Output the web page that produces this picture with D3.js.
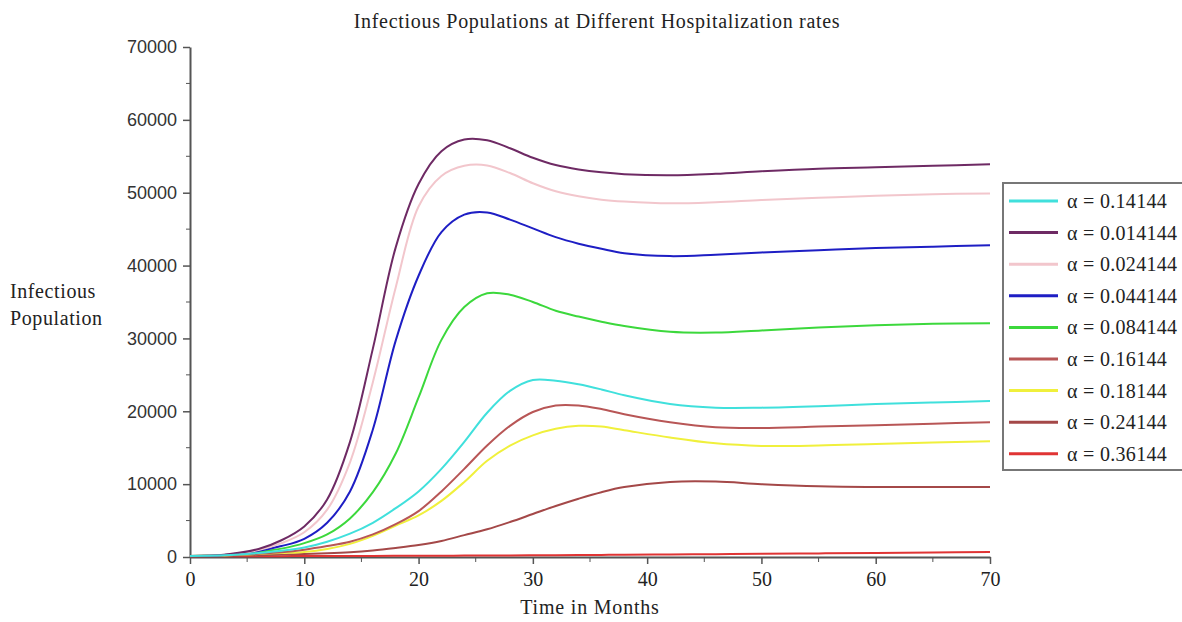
<!DOCTYPE html>
<html lang="en">
<head>
<meta charset="UTF-8">
<title>Infectious Populations</title>
<script src="https://cdn.jsdelivr.net/npm/d3@7"></script>
<style>
  body { margin: 0; background: #fff; }
  svg { display: block; }
</style>
</head>
<body>
<div id="chart"></div>
<script>
// time grid (months)
var months = [0, 3, 6, 8, 10, 12, 14, 16, 18, 20, 22, 24, 26, 28, 30, 32, 34, 36, 38, 42, 46, 50, 55, 60, 65, 70];

// infectious population for each hospitalization rate
var a0_14144  = [150, 250, 550, 850, 1300, 2100, 3200, 4700, 6700, 9000, 12100, 15800, 19800, 22800, 24300, 24200, 23700, 23000, 22200, 21000, 20500, 20500, 20700, 21000, 21200, 21400];
var a0_014144 = [150, 320, 1100, 2300, 4200, 7900, 15800, 28600, 42500, 51200, 55700, 57300, 57200, 56100, 54800, 53800, 53200, 52800, 52550, 52400, 52600, 52950, 53300, 53500, 53700, 53900];
var a0_024144 = [150, 300, 950, 1900, 3400, 6500, 13000, 24000, 37000, 48100, 52300, 53700, 53750, 52700, 51300, 50200, 49500, 49050, 48800, 48550, 48700, 49000, 49300, 49600, 49800, 49900];
var a0_044144 = [150, 290, 850, 1500, 2500, 4700, 9000, 17500, 29700, 38600, 44600, 47000, 47300, 46300, 45100, 43900, 43000, 42300, 41700, 41300, 41500, 41800, 42100, 42400, 42600, 42800];
var a0_084144 = [150, 270, 700, 1150, 1900, 3100, 5300, 8900, 14200, 21900, 29800, 34300, 36200, 36000, 35000, 33800, 33000, 32300, 31700, 30900, 30800, 31100, 31500, 31800, 32000, 32100];
var a0_16144  = [150, 230, 450, 650, 1000, 1500, 2100, 3100, 4500, 6300, 9000, 12100, 15300, 18000, 19900, 20800, 20800, 20300, 19600, 18500, 17800, 17700, 17900, 18100, 18300, 18500];
var a0_18144  = [150, 220, 420, 550, 700, 1100, 1800, 2900, 4300, 5700, 7700, 10300, 13200, 15300, 16700, 17600, 18000, 17900, 17400, 16400, 15600, 15250, 15300, 15500, 15700, 15900];
var a0_24144  = [120, 170, 250, 330, 400, 500, 650, 900, 1250, 1650, 2200, 3000, 3800, 4800, 5900, 7000, 8000, 8900, 9600, 10300, 10350, 10000, 9700, 9600, 9600, 9600];
var a0_36144  = [100, 105, 115, 120, 125, 130, 140, 150, 160, 170, 180, 190, 200, 210, 230, 250, 270, 290, 310, 350, 390, 430, 490, 560, 630, 700];

var labels = ["0.14144", "0.014144", "0.024144", "0.044144", "0.084144", "0.16144", "0.18144", "0.24144", "0.36144"];
var colors = ["#40e0dc", "#6e2a64", "#f2c6cc", "#1e1ec4", "#3cd83c", "#b85656", "#f0f03c", "#a44848", "#e03434"];
var seriesValues = [a0_14144, a0_014144, a0_024144, a0_044144, a0_084144, a0_16144, a0_18144, a0_24144, a0_36144];

var yTicks = [0, 10000, 20000, 30000, 40000, 50000, 60000, 70000];
var xTicks = [0, 10, 20, 30, 40, 50, 60, 70];

var W = 1182, H = 622;
var plotLeft = 190, plotRight = 990, plotTop = 47, plotBottom = 557;

var svg = d3.select('#chart').append('svg').attr('width', W).attr('height', H);

var x = d3.scaleLinear().domain([0, 70]).range([plotLeft, plotRight]);
var y = d3.scaleLinear().domain([0, 70000]).range([plotBottom, plotTop]);

var axisColor = '#555';
var serif = '"Liberation Serif", "Times New Roman", serif';

// y axis: major + minor ticks
var yAxis = svg.append('g').attr('transform', 'translate(' + plotLeft + ',0)')
  .call(d3.axisLeft(y).tickValues(yTicks).tickSize(7).tickSizeOuter(0).tickPadding(6).tickFormat(d3.format('d')));
yAxis.selectAll('text').style('font-family', '"Liberation Sans", sans-serif').style('font-size', '18px').attr('fill', '#333');
yAxis.append('g').selectAll('line')
  .data(d3.range(5000, 70000, 10000))
  .join('line')
  .attr('x1', -4).attr('x2', 0)
  .attr('y1', d => y(d)).attr('y2', d => y(d))
  .attr('stroke', axisColor);

// x axis
var xAxis = svg.append('g').attr('transform', 'translate(0,' + plotBottom + ')')
  .call(d3.axisBottom(x).tickValues(xTicks).tickSize(7).tickSizeOuter(0).tickPadding(8));
xAxis.selectAll('text').style('font-family', serif).style('font-size', '20px').attr('fill', '#222');
xAxis.append('g').selectAll('line')
  .data(d3.range(5, 70, 10))
  .join('line')
  .attr('x1', d => x(d)).attr('x2', d => x(d))
  .attr('y1', 0).attr('y2', 5)
  .attr('stroke', axisColor);

svg.selectAll('.domain').attr('stroke', axisColor).attr('stroke-width', 2);
svg.selectAll('.tick line').attr('stroke', axisColor).attr('stroke-width', 1.5);

// curves
var line = d3.line()
  .x((d, i) => x(months[i]))
  .y(d => y(d))
  .curve(d3.curveCatmullRom.alpha(0.5));

// lowest lines first so the upper ones sit on top
svg.append('g').selectAll('path')
  .data(seriesValues.map((v, i) => ({ values: v, color: colors[i] })).reverse())
  .join('path')
  .attr('d', d => line(d.values))
  .attr('fill', 'none')
  .attr('stroke', d => d.color)
  .attr('stroke-width', 2);

// titles
svg.append('text')
  .attr('x', 597).attr('y', 28)
  .attr('text-anchor', 'middle')
  .style('font-family', serif)
  .style('font-size', '20px')
  .style('letter-spacing', '0.7px')
  .attr('fill', '#222')
  .text('Infectious Populations at Different Hospitalization rates');

svg.append('text')
  .attr('x', 590).attr('y', 614)
  .attr('text-anchor', 'middle')
  .style('font-family', serif)
  .style('font-size', '20px')
  .style('letter-spacing', '0.8px')
  .attr('fill', '#222')
  .text('Time in Months');

svg.append('text')
  .style('font-family', serif)
  .style('font-size', '20px')
  .style('letter-spacing', '0.6px')
  .attr('fill', '#222')
  .selectAll('tspan')
  .data(['Infectious', 'Population'])
  .join('tspan')
  .attr('x', 10)
  .attr('y', (d, i) => 298 + i * 27)
  .text(d => d);

// legend
var legend = svg.append('g').attr('transform', 'translate(1003,183)');
legend.append('rect')
  .attr('x', 0).attr('y', 0)
  .attr('width', 185).attr('height', 287)
  .attr('fill', '#fff')
  .attr('stroke', '#777')
  .attr('stroke-width', 2);

var item = legend.selectAll('g.item')
  .data(labels)
  .join('g')
  .attr('class', 'item')
  .attr('transform', (d, i) => 'translate(0,' + (18 + i * 31.6) + ')');

item.append('line')
  .attr('x1', 6).attr('x2', 55)
  .attr('stroke', (d, i) => colors[i])
  .attr('stroke-width', 3);

item.append('text')
  .attr('x', 64).attr('y', 7)
  .style('font-family', serif)
  .style('font-size', '20px')
  .style('letter-spacing', '0.3px')
  .attr('fill', '#222')
  .text(d => '\u03b1 = ' + d);
</script>
</body>
</html>
